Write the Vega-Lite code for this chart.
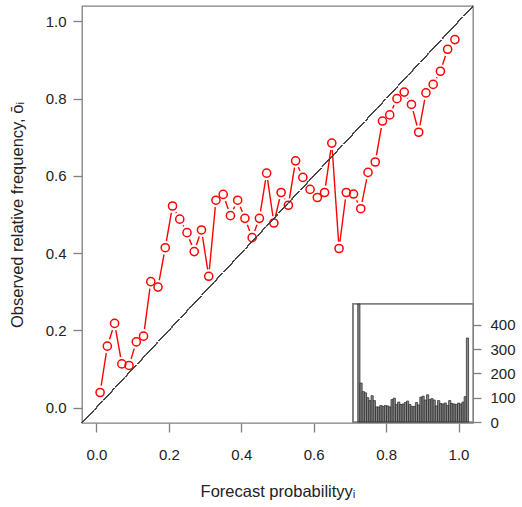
{
  "$schema": "https://vega.github.io/schema/vega-lite/v6.json",
  "autosize": "none",
  "width": 391,
  "height": 417,
  "padding": {"left": 82, "top": 6, "right": 49, "bottom": 84},
  "background": "white",
  "config": {
    "view": {"stroke": "#808080", "strokeWidth": 1.3},
    "font": "Liberation Sans",
    "axis": {
      "labelFont": "Liberation Sans",
      "titleFont": "Liberation Sans",
      "labelFontSize": 15,
      "titleFontSize": 16.5,
      "titleFontWeight": "normal",
      "labelColor": "#222222",
      "titleColor": "#222222",
      "tickColor": "#808080",
      "tickWidth": 1.3,
      "tickSize": 9,
      "domain": false,
      "grid": false
    }
  },
  "data": {
    "values": [
      {"lo": 0.00, "hi": 0.02, "p": 0.01, "obs": 0.039, "n": 485},
      {"lo": 0.02, "hi": 0.04, "p": 0.03, "obs": 0.159, "n": 160},
      {"lo": 0.04, "hi": 0.06, "p": 0.05, "obs": 0.218, "n": 125},
      {"lo": 0.06, "hi": 0.08, "p": 0.07, "obs": 0.113, "n": 120},
      {"lo": 0.08, "hi": 0.10, "p": 0.09, "obs": 0.109, "n": 100},
      {"lo": 0.10, "hi": 0.12, "p": 0.11, "obs": 0.170, "n": 88},
      {"lo": 0.12, "hi": 0.14, "p": 0.13, "obs": 0.185, "n": 108},
      {"lo": 0.14, "hi": 0.16, "p": 0.15, "obs": 0.326, "n": 88},
      {"lo": 0.16, "hi": 0.18, "p": 0.17, "obs": 0.312, "n": 62},
      {"lo": 0.18, "hi": 0.20, "p": 0.19, "obs": 0.414, "n": 62},
      {"lo": 0.20, "hi": 0.22, "p": 0.21, "obs": 0.522, "n": 68},
      {"lo": 0.22, "hi": 0.24, "p": 0.23, "obs": 0.488, "n": 64},
      {"lo": 0.24, "hi": 0.26, "p": 0.25, "obs": 0.453, "n": 68},
      {"lo": 0.26, "hi": 0.28, "p": 0.27, "obs": 0.404, "n": 66},
      {"lo": 0.28, "hi": 0.30, "p": 0.29, "obs": 0.460, "n": 62},
      {"lo": 0.30, "hi": 0.32, "p": 0.31, "obs": 0.340, "n": 92},
      {"lo": 0.32, "hi": 0.34, "p": 0.33, "obs": 0.537, "n": 98},
      {"lo": 0.34, "hi": 0.36, "p": 0.35, "obs": 0.552, "n": 72},
      {"lo": 0.36, "hi": 0.38, "p": 0.37, "obs": 0.497, "n": 82},
      {"lo": 0.38, "hi": 0.40, "p": 0.39, "obs": 0.537, "n": 72},
      {"lo": 0.40, "hi": 0.42, "p": 0.41, "obs": 0.490, "n": 74},
      {"lo": 0.42, "hi": 0.44, "p": 0.43, "obs": 0.440, "n": 80},
      {"lo": 0.44, "hi": 0.46, "p": 0.45, "obs": 0.490, "n": 86},
      {"lo": 0.46, "hi": 0.48, "p": 0.47, "obs": 0.607, "n": 72},
      {"lo": 0.48, "hi": 0.50, "p": 0.49, "obs": 0.478, "n": 64},
      {"lo": 0.50, "hi": 0.52, "p": 0.51, "obs": 0.557, "n": 64},
      {"lo": 0.52, "hi": 0.54, "p": 0.53, "obs": 0.524, "n": 80},
      {"lo": 0.54, "hi": 0.56, "p": 0.55, "obs": 0.639, "n": 70},
      {"lo": 0.56, "hi": 0.58, "p": 0.57, "obs": 0.596, "n": 102},
      {"lo": 0.58, "hi": 0.60, "p": 0.59, "obs": 0.565, "n": 106},
      {"lo": 0.60, "hi": 0.62, "p": 0.61, "obs": 0.544, "n": 90},
      {"lo": 0.62, "hi": 0.64, "p": 0.63, "obs": 0.557, "n": 112},
      {"lo": 0.64, "hi": 0.66, "p": 0.65, "obs": 0.685, "n": 92},
      {"lo": 0.66, "hi": 0.68, "p": 0.67, "obs": 0.412, "n": 96},
      {"lo": 0.68, "hi": 0.70, "p": 0.69, "obs": 0.557, "n": 90},
      {"lo": 0.70, "hi": 0.72, "p": 0.71, "obs": 0.553, "n": 66},
      {"lo": 0.72, "hi": 0.74, "p": 0.73, "obs": 0.515, "n": 88},
      {"lo": 0.74, "hi": 0.76, "p": 0.75, "obs": 0.609, "n": 76},
      {"lo": 0.76, "hi": 0.78, "p": 0.77, "obs": 0.636, "n": 74},
      {"lo": 0.78, "hi": 0.80, "p": 0.79, "obs": 0.742, "n": 78},
      {"lo": 0.80, "hi": 0.82, "p": 0.81, "obs": 0.758, "n": 68},
      {"lo": 0.82, "hi": 0.84, "p": 0.83, "obs": 0.800, "n": 88},
      {"lo": 0.84, "hi": 0.86, "p": 0.85, "obs": 0.817, "n": 76},
      {"lo": 0.86, "hi": 0.88, "p": 0.87, "obs": 0.785, "n": 74},
      {"lo": 0.88, "hi": 0.90, "p": 0.89, "obs": 0.713, "n": 72},
      {"lo": 0.90, "hi": 0.92, "p": 0.91, "obs": 0.815, "n": 78},
      {"lo": 0.92, "hi": 0.94, "p": 0.93, "obs": 0.837, "n": 74},
      {"lo": 0.94, "hi": 0.96, "p": 0.95, "obs": 0.871, "n": 82},
      {"lo": 0.96, "hi": 0.98, "p": 0.97, "obs": 0.928, "n": 104},
      {"lo": 0.98, "hi": 1.00, "p": 0.99, "obs": 0.953, "n": 345}
    ]
  },
  "layer": [
    {
      "encoding": {
        "x": {
          "field": "p",
          "type": "quantitative",
          "scale": {"domain": [-0.04, 1.04], "nice": false, "zero": false},
          "axis": {
            "values": [0, 0.2, 0.4, 0.6, 0.8, 1.0],
            "format": ".1f",
            "labelPadding": 15,
            "title": "Forecast probabilityyᵢ",
            "titlePadding": 21
          }
        },
        "y": {
          "field": "obs",
          "type": "quantitative",
          "scale": {"domain": [-0.04, 1.04], "nice": false, "zero": false},
          "axis": {
            "values": [0, 0.2, 0.4, 0.6, 0.8, 1.0],
            "format": ".1f",
            "labelPadding": 7,
            "title": "Observed relative frequency, ōᵢ",
            "titlePadding": 20
          }
        }
      },
      "layer": [
        {"mark": {"type": "line", "color": "#ff0000", "strokeWidth": 1.4}},
        {"mark": {"type": "point", "shape": "circle", "filled": true, "color": "white", "size": 200, "opacity": 1, "strokeWidth": 0}},
        {"mark": {"type": "point", "shape": "circle", "filled": false, "color": "#ff0000", "size": 66, "opacity": 1, "strokeWidth": 1.5}},
        {
          "mark": {"type": "rule", "color": "#444444", "strokeWidth": 1, "strokeDash": [3, 1.5]},
          "encoding": {
            "x": {"datum": -0.04, "type": "quantitative"},
            "y": {"datum": -0.04, "type": "quantitative"},
            "x2": {"datum": 1.04},
            "y2": {"datum": 1.04}
          }
        }
      ]
    },
    {
      "layer": [
        {
          "mark": {"type": "rect", "fill": "white", "stroke": "#808080", "strokeWidth": 1.3},
          "encoding": {
            "x": {"datum": -0.04, "type": "quantitative", "scale": {"domain": [-0.04, 1.04], "range": [271.3, 391], "nice": false, "zero": false}, "axis": null},
            "x2": {"datum": 1.04},
            "y": {"datum": 0, "type": "quantitative", "scale": {"domain": [0, 485], "range": [416, 298], "nice": false, "zero": false},
              "axis": {"orient": "right", "values": [0, 100, 200, 300, 400], "title": null, "tickSize": 8, "labelPadding": 9, "labelAlign": "left", "labelFontSize": 15}},
            "y2": {"datum": 485}
          }
        },
        {
          "mark": {"type": "rect", "fill": "#888888", "stroke": "#222222", "strokeWidth": 0.7},
          "encoding": {
            "x": {"field": "lo", "type": "quantitative"},
            "x2": {"field": "hi"},
            "y": {"field": "n", "type": "quantitative"},
            "y2": {"datum": 0}
          }
        }
      ]
    }
  ],
  "resolve": {
    "scale": {"x": "independent", "y": "independent"},
    "axis": {"x": "independent", "y": "independent"}
  }
}
